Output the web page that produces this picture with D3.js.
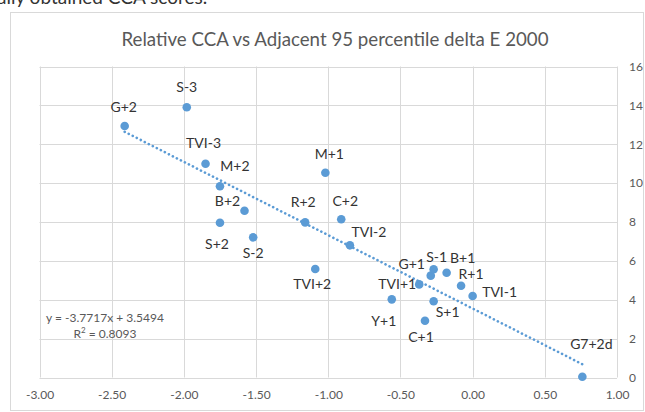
<!DOCTYPE html>
<html>
<head>
<meta charset="utf-8">
<script src="https://cdn.jsdelivr.net/npm/d3@7"></script>
<style>
  body { margin: 0; background: #fff; }
  svg { display: block; font-family: Lato, "Open Sans", sans-serif; }
</style>
</head>
<body>
<div class="canvas"></div>
<script>
// data
var names = ["G+2", "S-3", "TVI-3", "M+2", "B+2", "S+2", "S-2", "M+1", "R+2", "C+2", "TVI-2", "TVI+2",
	"G+1", "S-1", "B+1", "R+1", "TVI+1", "TVI-1", "Y+1", "S+1", "C+1", "G7+2d"];
var cca = [-2.41, -1.98, -1.85, -1.75, -1.58, -1.75, -1.52, -1.02, -1.16, -0.91, -0.85, -1.09,
	-0.29, -0.27, -0.18, -0.08, -0.37, 0.00, -0.56, -0.27, -0.33, 0.76];
var deltaE = [12.94, 13.9, 11.0, 9.84, 8.58, 7.96, 7.21, 10.53, 7.98, 8.14, 6.8, 5.58,
	5.24, 5.57, 5.39, 4.72, 4.79, 4.19, 4.02, 3.92, 2.92, 0.04];
var xTicks = [-3, -2.5, -2, -1.5, -1, -0.5, 0, 0.5, 1];
var yTicks = [0, 2, 4, 6, 8, 10, 12, 14, 16];
var slope = -3.7717, intercept = 3.5494, r2 = 0.8093;

// where each data label sits relative to its point (px)
var labelOffsets = [[-1, -19], [0, -20], [-2, -21], [15, -20], [-17, -10], [-3, 21], [0, 16], [4, -19],
	[-2, -20], [4, -18], [19, -13], [-3, 15], [-19, -12], [3, -12], [16, -15], [10, -12],
	[-22, 0], [27, -4], [-8, 22], [14, 11], [-4, 16], [9, -33]];

var width = 645, height = 412;
var blue = '#5b9bd5';

var svg = d3.select('.canvas').append('svg')
	.attr('width', width).attr('height', height);

// line of document text above the chart, cut by the crop
svg.append('text')
	.attr('x', -3).attr('y', 4)
	.attr('font-size', 19)
	.attr('fill', '#333')
	.text('ally obtained CCA scores.');

// chart frame
svg.append('rect')
	.attr('x', 10.5).attr('y', 12.5)
	.attr('width', 633).attr('height', 398)
	.attr('fill', '#fff')
	.attr('stroke', '#d9d9d9');

svg.append('text')
	.attr('x', 335).attr('y', 46)
	.attr('text-anchor', 'middle')
	.attr('font-size', 18.7)
	.attr('fill', '#595959')
	.text('Relative CCA vs Adjacent 95 percentile delta E 2000');

var x = d3.scaleLinear().domain([-3, 1]).range([39.5, 617]);
var y = d3.scaleLinear().domain([0, 16]).range([377.5, 66.5]);

// grid
var grid = svg.append('g');
grid.selectAll('line.v')
	.data(xTicks)
	.enter().append('line')
	.attr('x1', d => Math.round(x(d)) + 0.5).attr('x2', d => Math.round(x(d)) + 0.5)
	.attr('y1', y(16)).attr('y2', y(0))
	.attr('stroke', '#d9d9d9');
grid.selectAll('line.h')
	.data(yTicks)
	.enter().append('line')
	.attr('y1', d => Math.round(y(d)) + 0.5).attr('y2', d => Math.round(y(d)) + 0.5)
	.attr('x1', x(-3)).attr('x2', x(1))
	.attr('stroke', '#d9d9d9');

// axes (labels only, the grid does the lines)
var xAxis = svg.append('g')
	.attr('transform', 'translate(0,' + y(0) + ')')
	.call(d3.axisBottom(x).tickValues(xTicks).tickSize(0).tickPadding(13)
		.tickFormat(d => d.toFixed(2)));
var yAxis = svg.append('g')
	.attr('transform', 'translate(' + x(1) + ',0)')
	.call(d3.axisRight(y).tickValues(yTicks).tickSize(0).tickPadding(12));
[xAxis, yAxis].forEach(function (a) {
	a.select('.domain').remove();
	a.selectAll('text')
		.attr('font-family', 'Lato, sans-serif')
		.attr('font-size', 12)
		.attr('fill', '#595959');
});

// trendline
var xr = d3.extent(cca);
svg.append('line')
	.attr('x1', x(xr[0])).attr('y1', y(slope * xr[0] + intercept))
	.attr('x2', x(xr[1])).attr('y2', y(slope * xr[1] + intercept))
	.attr('stroke', blue)
	.attr('stroke-width', 2.6)
	.attr('stroke-linecap', 'round')
	.attr('stroke-dasharray', '0.1 4.4');

// points
var pts = names.map(function (n, i) {
	return { name: n, cx: cca[i], dy: deltaE[i], off: labelOffsets[i] };
});
svg.append('g').selectAll('circle')
	.data(pts)
	.enter().append('circle')
	.attr('cx', d => x(d.cx))
	.attr('cy', d => y(d.dy))
	.attr('r', 4.3)
	.attr('fill', blue);

svg.append('g').selectAll('text')
	.data(pts)
	.enter().append('text')
	.attr('x', d => x(d.cx) + d.off[0])
	.attr('y', d => y(d.dy) + d.off[1])
	.attr('dy', '0.35em')
	.attr('text-anchor', 'middle')
	.attr('font-size', 14)
	.attr('fill', '#333')
	.text(d => d.name);

// trendline equation
var eq = svg.append('text')
	.attr('x', 105).attr('y', 322)
	.attr('text-anchor', 'middle')
	.attr('font-size', 12)
	.attr('fill', '#595959');
eq.append('tspan').text('y = ' + slope.toFixed(4) + 'x + ' + intercept.toFixed(4));
var r2t = svg.append('text')
	.attr('x', 105).attr('y', 338)
	.attr('text-anchor', 'middle')
	.attr('font-size', 12)
	.attr('fill', '#595959');
r2t.append('tspan').text('R');
r2t.append('tspan').attr('dy', -5).attr('font-size', 8).text('2');
r2t.append('tspan').attr('dy', 5).text(' = ' + r2.toFixed(4));
</script>
</body>
</html>
